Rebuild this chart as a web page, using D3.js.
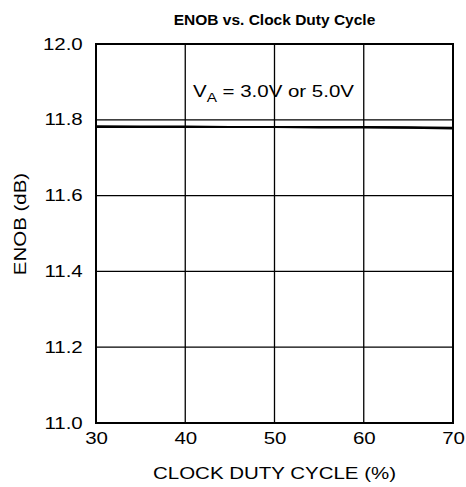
<!DOCTYPE html>
<html><head><meta charset="utf-8">
<script src="https://cdn.jsdelivr.net/npm/d3@7"></script>
<style>body{margin:0;background:#fff;}svg{display:block;font-family:"Liberation Sans",Arial,sans-serif;}</style>
</head><body>
<script>
const dutyCycle = [30, 35, 40, 45, 50, 55, 60, 65, 70];
const enob3V = [11.783, 11.782, 11.782, 11.781, 11.781, 11.781, 11.781, 11.780, 11.779];
const enob5V = [11.781, 11.781, 11.781, 11.781, 11.781, 11.780, 11.780, 11.779, 11.777];
const xTicks = [30, 40, 50, 60, 70];
const yTicks = [11.0, 11.2, 11.4, 11.6, 11.8, 12.0];

const W = 466, H = 487;
const SX = 1.28; // horizontal stretch of the original lettering
const m = {left: 96, right: 453, top: 44, bottom: 423};
const svg = d3.select("body").append("svg").attr("width", W).attr("height", H);
const x = d3.scaleLinear().domain([30, 70]).range([m.left, m.right]);
const y = d3.scaleLinear().domain([11.0, 12.0]).range([m.bottom, m.top]);

// grid
svg.append("g").selectAll("line").data(xTicks.slice(1, -1)).join("line")
  .attr("x1", d => x(d)).attr("x2", d => x(d)).attr("y1", m.top).attr("y2", m.bottom)
  .attr("stroke", "#000").attr("stroke-width", 1.3);
svg.append("g").selectAll("line").data(yTicks.slice(1, -1)).join("line")
  .attr("y1", d => y(d)).attr("y2", d => y(d)).attr("x1", m.left).attr("x2", m.right)
  .attr("stroke", "#000").attr("stroke-width", 1.3);

// data
const line = d3.line().x((d, i) => x(dutyCycle[i])).y(d => y(d));
[enob3V, enob5V].forEach(s => {
  svg.append("path").datum(s).attr("d", line).attr("fill", "none")
    .attr("stroke", "#000").attr("stroke-width", 2.2);
});

// frame
svg.append("rect").attr("x", m.left).attr("y", m.top)
  .attr("width", m.right - m.left).attr("height", m.bottom - m.top)
  .attr("fill", "none").attr("stroke", "#000").attr("stroke-width", 2);

// axes labels via axis generators
const xAxis = d3.axisBottom(x).tickValues(xTicks).tickFormat(d3.format("d")).tickSize(0).tickPadding(10);
const gx = svg.append("g").attr("transform", `translate(0,${m.bottom})`).call(xAxis);
gx.select(".domain").remove();
gx.selectAll("text").attr("font-size", 16).attr("fill", "#000")
  .attr("font-family", "Liberation Sans, Arial, sans-serif")
  .attr("transform", `scale(${SX},1)`).attr("x", 0);

const yAxis = d3.axisLeft(y).tickValues(yTicks).tickFormat(d3.format(".1f")).tickSize(0).tickPadding(13);
const gy = svg.append("g").attr("transform", `translate(${m.left},0)`).call(yAxis);
gy.select(".domain").remove();
gy.selectAll("text").attr("font-size", 16).attr("fill", "#000")
  .attr("font-family", "Liberation Sans, Arial, sans-serif")
  .attr("x", 0).attr("transform", `translate(-13.3,0) scale(${SX},1)`);

// titles
svg.append("text").attr("x", (m.left + m.right) / 2).attr("y", 25).attr("text-anchor", "middle")
  .attr("font-size", 15.5).attr("font-weight", "bold").text("ENOB vs. Clock Duty Cycle");
svg.append("text").attr("transform", `translate(${(m.left + m.right) / 2},479) scale(${SX},1)`)
  .attr("text-anchor", "middle").attr("font-size", 16).text("CLOCK DUTY CYCLE (%)");
svg.append("text").attr("transform", `translate(26,224) rotate(-90) scale(${SX},1)`)
  .attr("text-anchor", "middle").attr("font-size", 16).text("ENOB (dB)");

// annotation
const ann = svg.append("text").attr("transform", `translate(193,97) scale(${SX},1)`).attr("font-size", 16);
ann.append("tspan").text("V");
ann.append("tspan").attr("font-size", 12).attr("dy", 5).text("A");
ann.append("tspan").attr("dy", -5).text(" = 3.0V or 5.0V");
</script>
</body></html>
